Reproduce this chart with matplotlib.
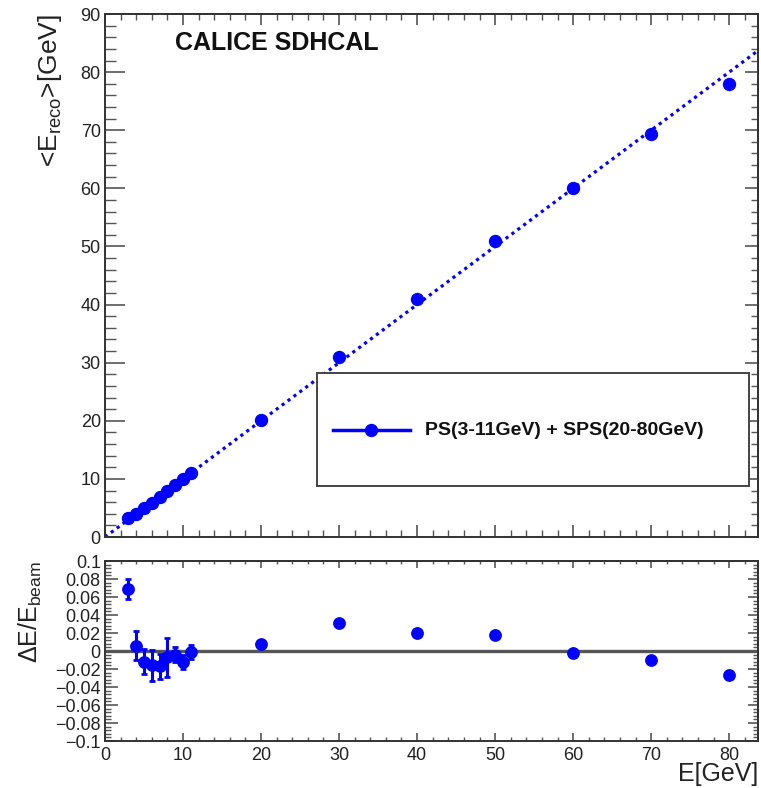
import matplotlib
matplotlib.use('Agg')
import numpy as np
import matplotlib.pyplot as plt
from matplotlib.ticker import MultipleLocator, NullFormatter, FixedLocator, FixedFormatter
from matplotlib.lines import Line2D
from matplotlib.patches import Rectangle

plt.rcParams['font.family'] = ['Liberation Sans', 'DejaVu Sans']
plt.rcParams['mathtext.default'] = 'regular'

# ---------------- data ----------------
beam_energy = [3, 4, 5, 6, 7, 8, 9, 10, 11, 20, 30, 40, 50, 60, 70, 80]
e_reco = [3.2, 4.0, 4.95, 5.9, 6.9, 7.95, 8.95, 9.9, 11.0,
          20.1, 31.0, 40.9, 51.0, 60.0, 69.4, 78.0]
residual = [0.069, 0.006, -0.012, -0.016, -0.017, -0.007, -0.004, -0.012, -0.001,
            0.008, 0.031, 0.020, 0.018, -0.002, -0.010, -0.027]
residual_err = [0.011, 0.016, 0.014, 0.017, 0.014, 0.022, 0.008, 0.008, 0.008,
                0.002, 0.002, 0.002, 0.002, 0.002, 0.002, 0.002]
fit_slope = 1.0
fit_intercept = 0.0
x_range = [0.0, 83.7]
ereco_ticks = [0, 10, 20, 30, 40, 50, 60, 70, 80, 90]
energy_ticks = [0, 10, 20, 30, 40, 50, 60, 70, 80]
residual_ticks = [-0.1, -0.08, -0.06, -0.04, -0.02, 0, 0.02, 0.04, 0.06, 0.08, 0.1]
residual_tick_labels = ['\u22120.1', '\u22120.08', '\u22120.06', '\u22120.04', '\u22120.02',
                        '0', '0.02', '0.04', '0.06', '0.08', '0.1']
legend_label = 'PS(3-11GeV) + SPS(20-80GeV)'
title_text = 'CALICE SDHCAL'

BLUE = '#0000ff'
SPINE = '#333333'
TICK = '#555555'

fig = plt.figure(figsize=(7.61, 7.88), dpi=100)
ax1 = fig.add_axes([0.1380, 0.3185, 0.8581, 0.6637])
ax2 = fig.add_axes([0.1380, 0.0596, 0.8581, 0.2284])


def style_axes(ax, xmaj, xmin, ymaj_locator, ymin, lens, xlabels=True):
    (ly_maj, ly_min, ry_maj, ry_min, bx_maj, bx_min, tx_maj, tx_min) = lens
    for sp in ax.spines.values():
        sp.set_color(SPINE)
        sp.set_linewidth(1.4)
    ax.xaxis.set_major_locator(FixedLocator(xmaj))
    ax.xaxis.set_minor_locator(MultipleLocator(xmin))
    ax.yaxis.set_major_locator(ymaj_locator)
    ax.yaxis.set_minor_locator(MultipleLocator(ymin))
    ax.tick_params(axis='y', which='major', direction='in', length=ly_maj, width=1.2,
                   color=TICK, labelsize=13, pad=3, labelcolor='#222222')
    ax.tick_params(axis='y', which='minor', direction='in', length=ly_min, width=1.0, color=TICK)
    ax.tick_params(axis='x', which='major', direction='in', length=bx_maj, width=1.2,
                   color=TICK, labelsize=13, pad=4, labelbottom=xlabels, labelcolor='#222222')
    ax.tick_params(axis='x', which='minor', direction='in', length=bx_min, width=1.0, color=TICK)
    secx = ax.secondary_xaxis('top')
    secx.xaxis.set_major_locator(FixedLocator(xmaj))
    secx.xaxis.set_minor_locator(MultipleLocator(xmin))
    secx.xaxis.set_major_formatter(NullFormatter())
    secx.tick_params(which='major', direction='in', length=tx_maj, width=1.2, color=TICK)
    secx.tick_params(which='minor', direction='in', length=tx_min, width=1.0, color=TICK)
    secx.spines['top'].set_color(SPINE)
    secx.spines['top'].set_linewidth(1.4)
    secy = ax.secondary_yaxis('right')
    secy.yaxis.set_major_locator(ymaj_locator)
    secy.yaxis.set_minor_locator(MultipleLocator(ymin))
    secy.yaxis.set_major_formatter(NullFormatter())
    secy.tick_params(which='major', direction='in', length=ry_maj, width=1.2, color=TICK)
    secy.tick_params(which='minor', direction='in', length=ry_min, width=1.0, color=TICK)
    secy.spines['right'].set_color(SPINE)
    secy.spines['right'].set_linewidth(1.4)


# ---------------- top panel ----------------
xs = np.array(x_range)
ax1.plot(xs, fit_slope * xs + fit_intercept, color=BLUE, lw=2.3,
         linestyle=(0, (1, 1.3)), zorder=2)
ax1.plot(beam_energy, e_reco, 'o', color=BLUE, markersize=8.6, zorder=3)
ax1.set_xlim(*x_range)
ax1.set_ylim(0, 90)
style_axes(ax1, energy_ticks, 2, FixedLocator(ereco_ticks), 2,
           (14.5, 8, 9.5, 5, 9, 5, 8, 4), xlabels=False)
ax1.set_ylabel('<E$_{reco}$>[GeV]', fontsize=19, loc='top', color='#222222')
ax1.yaxis.set_label_coords(-0.063, 1.0)
ax1.text(0.107, 0.9446, title_text, transform=ax1.transAxes, fontsize=18,
         fontweight='bold', va='center', ha='left', color='#111111')

# legend box
ax1.add_patch(Rectangle((0.325, 0.0975), 0.661, 0.216, transform=ax1.transAxes,
                        facecolor='white', edgecolor='#444444', lw=1.4, zorder=5))
ax1.add_line(Line2D([0.349, 0.467], [0.2046, 0.2046], transform=ax1.transAxes,
                    color=BLUE, lw=2.5, zorder=6))
ax1.add_line(Line2D([0.408], [0.2046], transform=ax1.transAxes, marker='o',
                    color=BLUE, markersize=8.6, zorder=7))
ax1.text(0.490, 0.2046, legend_label, transform=ax1.transAxes, fontsize=14,
         fontweight='bold', va='center', ha='left', zorder=7, color='#111111')

# ---------------- bottom panel ----------------
ax2.axhline(0, color='#555555', lw=2.4, zorder=1)
ax2.errorbar(beam_energy, residual, yerr=residual_err, fmt='o', color=BLUE,
             markersize=8.2, elinewidth=2.2, capsize=2, capthick=2, zorder=3)
ax2.set_xlim(*x_range)
ax2.set_ylim(-0.1, 0.1)
style_axes(ax2, energy_ticks, 2, FixedLocator(residual_ticks), 0.004,
           (9.5, 4, 7, 3.5, 6, 3, 5, 2.5), xlabels=True)
ax2.yaxis.set_major_formatter(FixedFormatter(residual_tick_labels))
ax2.set_ylabel('\u0394E/E$_{beam}$', fontsize=18, loc='top', color='#222222')
ax2.yaxis.set_label_coords(-0.093, 1.0)
ax2.set_xlabel('E[GeV]', fontsize=18, loc='right', color='#222222')
ax2.xaxis.set_label_coords(1.0, -0.118)

fig.savefig('out.png', dpi=100)
